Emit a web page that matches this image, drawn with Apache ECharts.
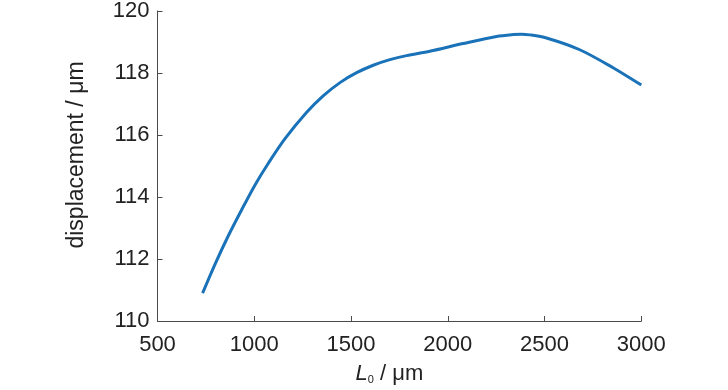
<!DOCTYPE html>
<html>
<head>
<meta charset="utf-8">
<script src="https://cdn.jsdelivr.net/npm/echarts@6/dist/echarts.min.js"></script>
<style>html,body{margin:0;padding:0;background:#fff}#c{width:728px;height:390px}</style>
</head>
<body>
<div id="c"></div>
<script>
const lengthL0 = [733, 797, 866, 935, 1004, 1072, 1159, 1271, 1356, 1443, 1529, 1615, 1701, 1787, 1907, 2079, 2252, 2338, 2380, 2424, 2510, 2682, 2854, 3000];
const displacement = [110.90, 111.83, 112.75, 113.59, 114.39, 115.08, 115.88, 116.73, 117.26, 117.69, 118.01, 118.25, 118.43, 118.56, 118.70, 118.95, 119.18, 119.24, 119.25, 119.23, 119.13, 118.75, 118.17, 117.61];
const xTicks = [500, 1000, 1500, 2000, 2500, 3000];
const yTicks = [110, 112, 114, 116, 118, 120];

const tickFont = '"Liberation Sans", Arial, sans-serif';
const nameFont = '"Liberation Sans", Arial, sans-serif';
const chart = echarts.init(document.getElementById('c'), null, {renderer: 'canvas'});
chart.setOption({
  animation: false,
  grid: {left: 157.5, right: 86.7, top: 11, bottom: 66, containLabel: false},
  xAxis: {
    type: 'value', min: xTicks[0], max: xTicks[xTicks.length - 1], interval: 500,
    axisLine: {lineStyle: {color: '#4a4a4a', width: 1}},
    axisTick: {inside: true, length: 5, lineStyle: {color: '#4a4a4a'}},
    splitLine: {show: false},
    axisLabel: {color: '#222', fontFamily: tickFont, fontSize: 22, margin: 13, formatter: v => String(v)},
    name: '{i|L}{s|0}{n| / μm}', nameLocation: 'middle', nameGap: 42,
    nameTextStyle: {
      padding: [0, 20, 0, 0],
      rich: {
        i: {fontStyle: 'italic', fontSize: 22, fontFamily: nameFont, color: '#222'},
        s: {fontSize: 11, fontFamily: nameFont, color: '#222', verticalAlign: 'bottom', padding: [10, 0, 0, 0]},
        n: {fontSize: 22, fontFamily: nameFont, color: '#222'}
      }
    }
  },
  yAxis: {
    type: 'value', min: yTicks[0], max: yTicks[yTicks.length - 1], interval: 2,
    axisLine: {show: true, lineStyle: {color: '#4a4a4a', width: 1}},
    axisTick: {show: true, inside: true, length: 5, lineStyle: {color: '#4a4a4a'}},
    splitLine: {show: false},
    axisLabel: {color: '#222', fontFamily: tickFont, fontSize: 22, margin: 8, formatter: v => String(v)},
    name: 'displacement / μm', nameLocation: 'middle', nameGap: 69, nameRotate: 90,
    nameTextStyle: {color: '#222', fontFamily: nameFont, fontSize: 23, padding: [0, 0, 0, 22]}
  },
  series: [{
    type: 'line',
    data: lengthL0.map((x, i) => [x, displacement[i]]),
    smooth: 0.3,
    showSymbol: false,
    lineStyle: {color: '#1a72b8', width: 3}
  }]
});
</script>
</body>
</html>
